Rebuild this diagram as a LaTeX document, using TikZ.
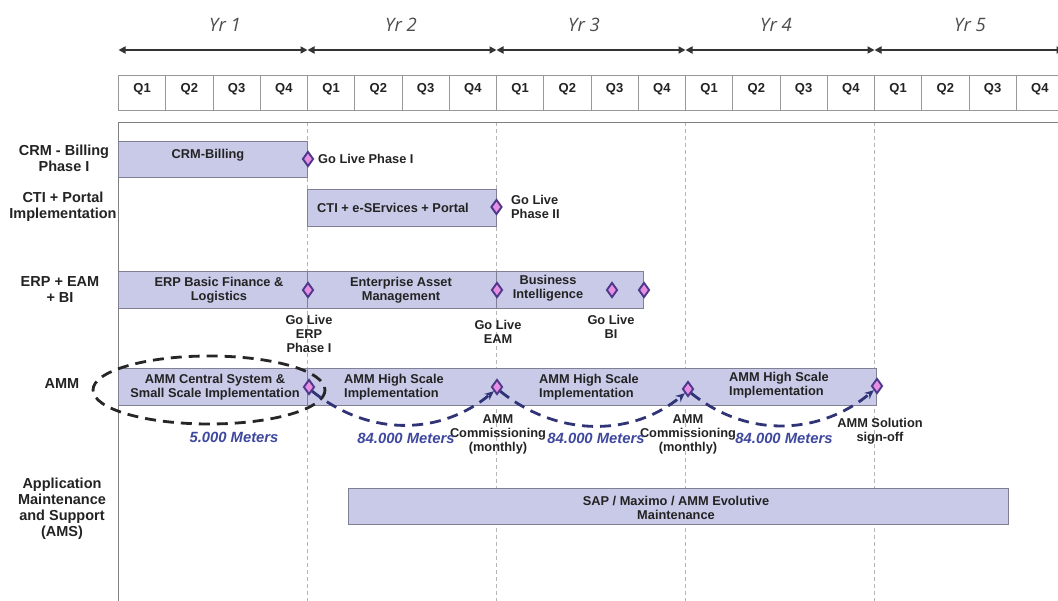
\documentclass[tikz,border=0pt]{standalone}
\usepackage{fontspec}
\setmainfont{Liberation Sans}
\newfontfamily\yrfont{Open Sans}
\usepackage{xcolor}
\usetikzlibrary{shapes.geometric, arrows.meta}
\definecolor{barfill}{RGB}{200,202,232}
\definecolor{barline}{RGB}{128,128,148}
\definecolor{msfill}{RGB}{232,142,226}
\definecolor{msline}{RGB}{78,56,140}
\definecolor{meterblue}{RGB}{62,72,158}
\definecolor{ammblue}{RGB}{48,52,118}
\definecolor{txt}{RGB}{35,35,35}
\definecolor{gridgray}{RGB}{180,180,180}
\begin{document}
\begin{tikzpicture}[x=1pt,y=-1pt,font=\bfseries\fontsize{12.8}{14}\selectfont]
   \tikzstyle{bar}=[fill=barfill, draw=barline, line width=0.8pt]
   \tikzstyle{ms}=[diamond, fill=msfill, draw=msline, line width=1.9pt, minimum width=11pt, minimum height=15pt, inner sep=0pt]
   \tikzstyle{lbl}=[align=center, inner sep=0pt, text=txt]
   \tikzstyle{rowlbl}=[lbl, font=\bfseries\fontsize{14.5}{16}\selectfont]
   \tikzstyle{mtr}=[inner sep=0pt, text=meterblue, font=\bfseries\itshape\fontsize{14.8}{16}\selectfont]
   \tikzstyle{yr}=[inner sep=0pt, text=black!70, font=\yrfont\itshape\fontsize{18.5}{20}\selectfont]
   \tikzstyle{amm}=[ammblue, line width=2.8pt, dash pattern=on 11pt off 7pt, -{Stealth[length=9pt,width=8pt]}]
   \useasboundingbox (0,0) rectangle (1058,601);
   \clip (0,0) rectangle (1058,601);
   \fill[white] (0,0) rectangle (1058,601);
   %% years
\foreach \i/\x in {1/225,2/401,3/584,4/776,5/970} {
  \draw[black!80, line width=1.7pt, {Triangle[length=7pt,width=7pt]}-{Triangle[length=7pt,width=7pt]}] ({118.5+189*(\i-1)},50) -- ({118.5+189*\i},50);
  \node[yr] (yr\i) at (\x,25) {Yr \i};
}
   %% quarters
\foreach \k [evaluate=\k as \n using {int(mod(\k,4)+1)}] in {0,...,19} {
  \draw[black!40, line width=0.8pt] ({118.5+47.25*\k},75) rectangle ++(47.25,35);
  \node[lbl, font=\bfseries\fontsize{13}{14}\selectfont] (q\k) at ({118.5+47.25*\k+23.6},89) {Q\n};
}
   %% frame and grid
\foreach \x in {307.5,496.5,685.5,874.5}
  \draw[gridgray, line width=0.8pt, dash pattern=on 4pt off 3pt] (\x,122) -- (\x,601);
\draw[black!50, line width=0.9pt] (1058,122) -- (118.5,122) -- (118.5,601);
   %% row labels
\node[rowlbl] (r1) at (64,158) {CRM - Billing\\Phase I};
\node[rowlbl] (r2) at (63,207) {CTI + Portal\\Implementation};
\node[rowlbl] (r3) at (60,290) {ERP + EAM\\+ BI};
\node[rowlbl] (r4) at (62,384) {AMM};
\node[rowlbl] (r5) at (62,509) {Application\\Maintenance\\and Support\\(AMS)};
   %% bars
\draw[bar] (118.5,141) rectangle (307.5,177);
\node[lbl] (crm) at (208,155) {CRM-Billing};
\draw[bar] (307.5,189) rectangle (496.5,226);
\node[lbl] (cti) at (393,208) {CTI + e-SErvices + Portal};
\draw[bar] (118.5,271) rectangle (307.5,308);
\draw[bar] (307.5,271) rectangle (496.5,308);
\draw[bar] (496.5,271) rectangle (643,308);
\node[lbl] (erp) at (219,290) {ERP Basic Finance \&\\Logistics};
\node[lbl] (eam) at (401,290) {Enterprise Asset\\Management};
\node[lbl] (bi) at (548,288) {Business\\Intelligence};
\draw[bar] (118.5,368) rectangle (307.5,405);
\draw[bar] (307.5,368) rectangle (876,405);
\node[lbl] (amm0) at (215,387) {AMM Central System \&\\Small Scale Implementation};
\node[lbl, align=left, anchor=west] (amm1) at (344,387) {AMM High Scale\\Implementation};
\node[lbl, align=left, anchor=west] (amm2) at (539,387) {AMM High Scale\\Implementation};
\node[lbl, align=left, anchor=west] (amm3) at (729,385) {AMM High Scale\\Implementation};
\draw[bar] (348,488) rectangle (1008,524);
\node[lbl] (ams) at (676,508) {SAP / Maximo / AMM Evolutive\\Maintenance};
   %% milestones
\node (m1) at (308,159) [ms] {};
\node (m2) at (496.5,207) [ms] {};
\node (m3) at (308,290) [ms] {};
\node (m4) at (497,290) [ms] {};
\node (m5) at (612,290) [ms] {};
\node (m6) at (644,290) [ms] {};
\node (m7) at (309,387) [ms] {};
\node (m8) at (497,387) [ms] {};
\node (m9) at (688,389) [ms] {};
\node (m10) at (877,386) [ms] {};
   %% milestone labels
\node[lbl, anchor=west] (g1) at (318,159) {Go Live Phase I};
\node[lbl, align=left, anchor=west] (g2) at (511,207) {Go Live\\Phase II};
\node[lbl] (g3) at (309,334) {Go Live\\ERP\\Phase I};
\node[lbl] (g4) at (498,332) {Go Live\\EAM};
\node[lbl] (g5) at (611,327) {Go Live\\BI};
\node[lbl] (c1) at (498,434) {AMM\\Commissioning\\(monthly)};
\node[lbl] (c2) at (688,434) {AMM\\Commissioning\\(monthly)};
\node[lbl] (so) at (880,431) {AMM Solution\\sign-off};
   %% AMM roll-out
\draw[black!85, line width=2.8pt, dash pattern=on 11pt off 7pt] (209,390) ellipse [x radius=116, y radius=34];
\draw[amm] (m7.south east) .. controls +(60,48) and +(-50,42) .. (m8.south west);
\draw[amm] (m8.south east) .. controls +(60,48) and +(-50,42) .. (m9.south west);
\draw[amm] (m9.south east) .. controls +(60,48) and +(-50,42) .. (m10.south west);
\node[mtr] (k0) at (234,437) {5.000 Meters};
\node[mtr] (k1) at (406,438) {84.000 Meters};
\node[mtr] (k2) at (596,438) {84.000 Meters};
\node[mtr] (k3) at (784,438) {84.000 Meters};
\end{tikzpicture}
\end{document}
